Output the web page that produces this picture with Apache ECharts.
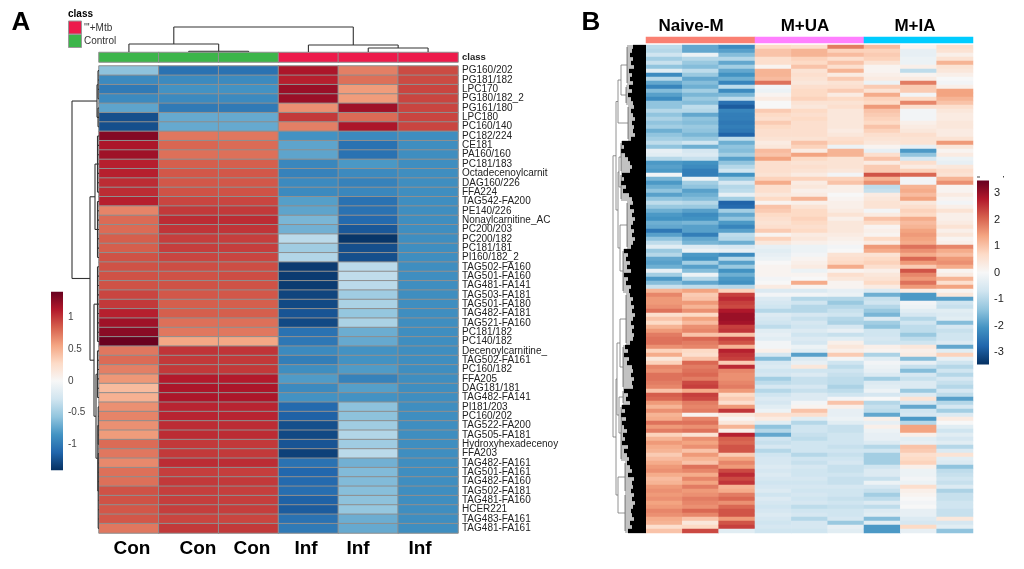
<!DOCTYPE html>
<html>
<head>
<meta charset="utf-8">
<title>Lipid heatmaps</title>
<style>
  html, body { margin: 0; padding: 0; background: #fff; }
  #myChart { width: 1024px; height: 569px; }
</style>
<script src="https://cdn.jsdelivr.net/npm/echarts@6/dist/echarts.min.js"></script>
</head>
<body>
<div id="myChart"></div>
<script>
// panel A
var lipidNames = ['PG160/202','PG181/182','LPC170','PG180/182_2','PG161/180','LPC180','PC160/140','PC182/224','CE181','PA160/160',
  'PC181/183','Octadecenoylcarnit','DAG160/226','FFA224','TAG542-FA200','PE140/226','Nonaylcarnitine_AC','PC200/203','PC200/182','PC181/181',
  'PI160/182_2','TAG502-FA160','TAG501-FA160','TAG481-FA141','TAG503-FA181','TAG501-FA180','TAG482-FA181','TAG521-FA160','PC181/182','PC140/182',
  'Decenoylcarnitine_','TAG502-FA161','PC160/182','FFA205','DAG181/181','TAG482-FA141','PI181/203','PC160/202','TAG522-FA200','TAG505-FA181',
  'Hydroxyhexadecenoy','FFA203','TAG482-FA161','TAG501-FA161','TAG482-FA160','TAG502-FA181','TAG481-FA160','HCER221','TAG483-FA161','TAG481-FA161'];
var sampleClass = [1, 1, 1, 0, 0, 0];
var classColors = ['#ED1A4B', '#3CB54A'];
var classNames = ["'''+Mtb", 'Control'];

var con1 = [-.58,-.9,-1.0,-.9,-.75,-1.25,-1.25,1.3,1.15,1.2,1.1,1.1,1.05,1.05,1.1,.7,.8,.8,.85,.85,.9,.9,.9,.9,.95,1.0,1.1,1.2,1.28,1.4,
  .75,.8,.72,.62,.45,.5,.65,.7,.65,.6,.8,.75,.68,.78,.78,.9,.9,.88,.88,.75];
var con2 = [-1.05,-.9,-.85,-.9,-1.0,-.72,-.72,.75,.82,.78,.85,.88,.88,.9,.95,1.0,1.05,1.02,.98,.98,.95,.92,.9,.9,.88,.85,.85,.78,.75,.55,
  1.02,1.0,1.0,1.12,1.15,1.15,1.08,1.08,1.05,1.05,1.0,1.0,1.05,.98,1.0,.98,.98,.98,.95,1.0];
var con3 = [-1.05,-.9,-.85,-.9,-1.0,-.72,-.72,.75,.8,.78,.85,.88,.88,.9,.95,1.0,1.05,1.02,.98,.98,.95,.92,.92,.9,.88,.85,.85,.78,.75,.55,
  1.02,1.0,1.0,1.12,1.15,1.15,1.08,1.08,1.05,1.05,1.0,1.0,1.05,.98,1.0,.98,.98,.98,.95,1.0];
var inf1 = [1.15,1.1,1.22,1.22,.65,1.0,.72,-.85,-.75,-.75,-.92,-.95,-.9,-.9,-.78,-.75,-.65,-.68,-.38,-.5,-.42,-1.35,-1.35,-1.35,-1.3,-1.28,-1.22,-1.28,-1.05,-1.02,
  -.9,-.98,-.88,-.8,-.9,-.85,-1.1,-1.15,-1.25,-1.28,-1.22,-1.32,-1.05,-1.12,-1.1,-1.08,-1.15,-1.18,-1.05,-1.0];
var inf2 = [.72,.78,.6,.6,1.2,.8,1.15,-.9,-1.05,-1.05,-.82,-.9,-.95,-.92,-1.05,-1.05,-1.1,-1.2,-1.38,-1.25,-1.25,-.38,-.36,-.38,-.5,-.45,-.55,-.45,-.7,-.72,
  -.85,-.85,-.8,-.95,-.78,-.85,-.58,-.58,-.5,-.42,-.5,-.38,-.68,-.62,-.62,-.6,-.58,-.55,-.7,-.72];
var inf3 = [.93,.93,.95,.95,.95,.95,.95,-.88,-.88,-.88,-.88,-.88,-.88,-.88,-.88,-.88,-.88,-.88,-.88,-.88,-.88,-.88,-.88,-.88,-.88,-.88,-.88,-.88,-.88,-.88,
  -.88,-.88,-.88,-.88,-.88,-.88,-.88,-.88,-.88,-.88,-.88,-.88,-.88,-.88,-.88,-.88,-.88,-.88,-.88,-.88];
var columnsA = [con1, con2, con3, inf1, inf2, inf3];

// dendrograms: [height, child, child], [height, n] is a block of n leaves
var treeTopA = [25, [8, [0, 1], [0.8, [0, 1], [0, 1]]], [7, [0, 1], [4, [0, 1], [0, 1]]]];
var treeLeftA = [27,
  [2, [1, 4], [1, 3]],
  [9,
    [4, [1.5, 7], [1.5, 7]],
    [5, [1.5, 9], [3, [1.5, 6], [1.2, [0.8, 5], [0.8, 9]]]]
  ]
];

// panel B
var groupNames = ['Naive-M', 'M+UA', 'M+IA'];
var groupColors = ['#FA8072', '#FF80FF', '#00CCFF'];

var naive1 = [-.9,-1.0,-.7,-1.2,-.8,-1.4,-.4,-2.2,-1.0,-1.8,-2.3,-1.5,-1.9,-2.2,-1.4,-1.4,-1.0,-1.4,-1.1,-1.4,-1.2,-1.7,-1.4,-1.2,-.9,-1.4,-.3,-.4,-1.0,-2.0,-1.9,
  -2.0,-.1,-1.6,-2.0,-1.7,-1.4,-1.9,-1.4,-.9,-1.3,-1.7,-2.0,-2.1,-1.7,-1.8,-2.5,-1.9,-1.4,-.9,-.4,-1.3,-1.0,-1.8,-1.9,-1.7,-.3,-1.2,-2.0,-1.5,-.8,1.2,
  1.7,1.5,1.5,1.6,1.9,.6,1.0,.7,1.2,1.5,1.8,1.9,1.9,1.6,.8,1.3,.4,.8,1.7,1.6,1.9,1.9,1.8,1.7,1.0,2.1,2.0,1.5,1.2,1.6,
  1.2,1.3,1.9,1.5,1.8,.8,1.2,1.5,1.3,1.2,.9,1.1,1.3,1.5,1.6,1.3,1.1,1.2,1.5,1.6,1.5,1.6,1.4,1.5,1.7,1.6,1.3,1.2,.6,1.0];
var naive2 = [-1.8,-1.8,-.2,-1.0,-1.3,-1.5,-.9,-1.3,-1.8,-1.5,-1.7,-1.2,-1.6,-1.3,-1.5,-.9,-1.0,-1.8,-1.4,-1.5,-1.3,-1.4,-1.6,-1.3,-.7,-1.7,-.6,-.5,-.8,-2.1,-2.2,
  -2.4,-2.4,-.2,-1.2,-1.4,-1.9,-1.7,-1.5,-1.0,-1.3,-1.9,-2.2,-2.1,-1.6,-1.9,-1.9,-2.4,-1.8,-1.6,-.5,-.2,-2,-2.1,-1.2,-1.9,-1.5,-.2,-1,-1.8,-.9,1.4,
  .9,1.0,1.5,1.2,1.6,.7,1.4,1.1,1.6,1.7,1.0,2.0,1.8,1.7,.7,.6,1.0,2.0,1.8,1.9,2.0,1.8,2.3,2.4,1.3,2.4,2.3,1.8,1.7,1.8,
  .1,1.7,1.9,1.6,1.9,.5,1.6,1.4,1.6,1.0,1.5,1.2,1.0,1.9,1.7,1.3,1.7,1.4,1.8,1.5,1.6,1.8,1.7,1.6,2.0,1.7,1.0,.4,.7,2.3];
var naive3 = [-2.2,-1.9,-1.5,-1.0,-1.8,-1.2,-1.8,-2.1,-1.7,-2.3,-.9,-2.2,-1.6,-.9,-2.6,-2.9,-2.3,-2.4,-2.4,-2.5,-2.4,-2.5,-2.8,-.9,-1.7,-1.4,-1.5,-1.2,-1.9,-1.4,-1.0,
  -.7,-2.1,-1.3,-.6,-1,-.9,-.3,-1.2,-2.8,-2.7,-1.2,-1.8,-1.4,-2,-2.3,-1.9,-.9,-1.0,-1.7,-.6,-.3,-2.2,-1.0,-1.9,-1.3,-2.1,-1.7,-2.0,-2.1,-1.0,.8,
  2.4,2.6,2.4,2.3,2.8,3.0,3.0,2.9,2.4,2.5,1.0,2.4,2.2,1.2,2.7,2.5,2.4,.9,2.6,1.7,1.6,1.6,1.7,1.8,1.5,.7,.9,.6,1.5,2.5,
  .4,.1,.4,1.2,.2,2.7,2.1,2.0,2.2,2.2,.9,1.4,1.7,1.5,2.3,2.6,2.3,2.5,1.2,1.3,1.8,2.0,1.6,2.0,2.2,2.2,1.5,2.2,2.4,-.4];
var ua1 = [.7,1.0,1.0,.6,.6,.1,1.2,1.2,1.1,1.9,-.1,-.2,.1,.3,.0,.0,.9,.7,.6,.9,.7,.6,.6,.5,.3,.4,1.1,1.0,1.4,.6,.6,
  .6,.5,.8,1.3,.6,.6,.4,.7,.1,1.0,.9,.7,.6,.5,.6,.9,.1,.8,.4,-.3,-.4,-.3,-.2,.0,.1,.1,.1,-.1,.0,.3,-.5,
  -.1,-.5,-.6,-.7,-1.0,-.5,-.6,-.7,-.9,-.4,-.3,-.4,-.1,-.1,.2,-.6,-1.5,-.6,-.5,-.7,-.6,-1.2,-.9,-.6,-1.0,-.7,-.5,-.6,-.4,-.2,
  .6,.3,-.4,-1.4,-1.0,-1.8,-.7,-.8,-.6,-1.0,-.7,-.6,-.6,-.5,-.6,-.5,-.6,-.7,-.6,-.5,-.7,-.5,-.6,-.7,-.6,-.5,-.6,-.7,-.6,-.7];
var ua2 = [.6,1.2,1.2,.8,.7,1.0,.5,.6,.5,.4,.6,.7,.7,.8,.5,.4,.7,.6,.7,.6,.6,.6,.6,.5,1.0,.8,.3,1.4,.7,.5,.6,
  .5,.3,.8,.3,.4,.2,.3,1.2,.2,.5,.7,.7,.8,.7,.6,.7,.3,.4,.2,-.2,-.2,-.1,.1,.2,.3,-.2,.1,.0,1.3,.1,-.5,
  -.1,-1.0,-.7,-1.0,-1.0,-.6,-.8,-.6,-.7,-.5,-.7,-.5,-.6,-.2,-.4,-1.9,-.5,-.3,.4,-.7,-.5,-.8,-.8,-.6,-.8,-.5,-.5,-.1,.1,1.0,
  .6,-.4,-1.0,-.7,-.7,-.8,-.9,-.7,-.7,-.7,-1.0,-.7,-.8,-.6,-.7,-.7,-.6,-.7,-.6,-.7,-.6,-.7,-.6,-.9,-.7,-.6,-1.0,-.6,-.6,-.7];
var ua3 = [1.8,.8,1.1,.6,1.0,.6,1.2,.3,.9,.5,.6,.9,.3,.7,.5,.6,.4,.4,.4,.4,.4,.3,.4,.6,.7,-.2,1.2,1.2,.5,.5,.5,
  .4,-.1,.8,1.0,.2,.2,.0,.1,.2,.2,.3,.5,.2,.4,.4,.4,.3,.2,.1,-.1,.0,.5,.6,.7,1.3,.1,.6,.4,.1,.1,-.3,
  -.2,-1.0,-1.3,-1.0,-.8,-.7,-1.0,-1.1,-.6,-.3,-.8,-.4,.2,.4,.2,.9,-.1,-.7,-.9,-.7,-.8,-.9,-.9,-1.1,-.9,-.7,-.1,1.0,.2,-.3,
  -.3,-.2,-.4,-.8,-.8,-.7,-.7,-.7,-.8,-.7,-.8,-.7,-.6,-.8,-.8,-.7,-.8,-.8,-.6,-.7,-.7,-.8,-.7,-.8,-.7,-.7,-.6,-1.3,-.3,-.4];
var ia1 = [1.1,.8,.9,.8,.5,.1,.1,.2,.3,-.2,.9,.5,1.3,.8,.7,1.5,1.0,.9,.8,.7,1.0,.8,.6,.5,.4,.1,-.3,.6,1.0,.3,.9,
  .9,2.2,1.2,1.6,-.9,-.8,.3,.4,.5,.5,-.1,.3,1.0,.7,.1,.2,.1,.7,.3,1.5,1.3,.5,.7,.8,.6,.2,.4,.5,.7,.3,-.5,
  -1.7,-.8,-.7,-1.0,-1.3,-1.6,-.5,-1.2,-1.4,-.7,-.7,-.6,-.7,.2,.1,-1.1,-.4,-.1,-.2,-.3,-.5,-1.2,-.5,-.4,-.2,-.6,.0,-1.0,-.8,-.9,
  -1.8,.2,-.3,.2,-.2,-.3,-.3,-.5,-1.0,-.7,-1.2,-1.2,-1.2,-.7,-.5,-.5,-.8,-.2,-.6,-.8,-1.2,-.9,-.5,-.9,-.5,-.4,-1.5,-.4,-2.0,-2.0];
var ia2 = [.1,-.3,-.3,-.2,-.2,.2,-.9,.1,.3,1.8,.9,.9,-.1,.7,1.7,.6,-.1,-.1,-.1,.2,.3,.4,.6,.5,.5,-.3,-2.0,-1.4,-.6,.6,.3,
  .8,2.0,-.1,-.1,1.2,1.3,1.1,1.4,.4,.6,.8,.7,1.3,1.1,1.2,1.4,1.5,1.4,1.3,1.9,1.6,1.3,2.0,1.5,.9,2.2,1.7,1.5,1.9,1.5,.3,
  -2.0,-2.0,-.1,-.2,-.4,-.6,-1.0,-.7,-.9,-.9,-1.3,-.9,-.7,.4,.2,.3,-1.5,-.3,-.8,-1.5,-.6,-.8,-.5,-.5,-1.3,-.5,.5,-.6,-1.8,-.7,
  -.6,-2.0,-1.0,1.4,1.4,.2,-.4,-.3,1.0,.9,.6,.7,.8,.2,-.2,-.2,-.1,-.2,.6,.2,.1,.0,-.1,.0,-.3,-.3,-.5,-.6,.7,-.3];
var ia3 = [.6,.5,.2,.5,1.2,.5,.4,.2,.0,-.1,.2,1.4,1.4,1.2,1.0,.6,.4,.3,.3,.4,.4,.3,.3,.5,1.5,.4,.1,.3,-.2,-.3,.4,
  .6,.5,1.2,1.6,.1,.1,.3,.1,-.1,.2,.5,.2,.2,.3,.5,.2,.4,.1,.2,1.7,1.3,1.1,1.5,1.6,1.3,.1,.3,1.2,.6,1.4,.1,
  .4,-1.9,-.7,-.8,-.4,-.5,-.4,-1.5,-.6,-.8,-.7,-.7,-.5,-1.8,-.4,.8,-.3,-.7,-1.0,-.7,-1.0,-.6,-.8,-1.0,-.6,-.9,-1.9,-1.0,-.6,-1.2,
  -.5,.3,.0,-.4,-.7,-.4,-.6,-.4,-1.0,-.5,.5,-.4,-.5,-1.4,-.9,-.8,-.7,-.8,-.5,-1.1,-.8,-.8,-.7,-.7,-.8,-.8,.4,-.6,-.4,-1.4];
var columnsB = [naive1, naive2, naive3, ua1, ua2, ua3, ia1, ia2, ia3];

var leafDepthB = [13,14,16,13,15,12,17,14,16,13, 17,14,18,15,13, 12,15,13,11,14,12,13,11,15,
  24,22,25,21,18,16,14,16, 24,22,25,20,23,17,14, 13,16,12,14,11,13,15,12,14,11,13,15, 22,18,20,16,19,15,22,18,20,15,17,
  16,13,15,12,14,11,13,15,12,14,12,13,16, 21,18,22,17,19,14,13,15,12,14,13, 22,18,20,16,
  24,21,25,20,24,22,19,23,21,24,18,22,19,17, 19,16,14,18,12,14,13,15,12,14,11,13,15,14,12,16,14,18];
var treeLeftB = [33,
  [30,
    [28, [25, [19, 10], [20, 5]], [18, 9]],
    [28, [27, [25, 8], [25, 7]], [26, [19, 12], [23, 11]]]
  ],
  [30,
    [29, [26, [20, 13], [23, 11]], [27, [23, 4], [25, 14]]],
    [28, [21, 8], [21, 10]]
  ]
];

var rdBu = ['#053061','#2166ac','#4393c3','#92c5de','#d1e5f0','#f7f7f7','#fddbc7','#f4a582','#d6604d','#b2182b','#67001f'];
var rangeA = 1.41, rangeB = 3.47;
var fontName = 'Liberation Sans';

function heatData(columns) {
    var out = [];
    for (var c = 0; c < columns.length; c++) {
        for (var r = 0; r < columns[c].length; r++) {
            out.push([c, r, columns[c][r]]);
        }
    }
    return out;
}

// walks a tree, returns segments [h1, pos1, h2, pos2, kind]
function layoutTree(node, state, depths) {
    var h = node[0];
    if (node.length === 2) {
        var first = state.cursor + 0.5;
        for (var i = 0; i < node[1]; i++) {
            var p = state.cursor + 0.5;
            if (depths) {
                var d = depths[state.cursor];
                state.segs.push([0, p, d, p, 1]);
                // two fine branches per row, the picture has about two leaves per band
                state.segs.push([d, p - 0.25, h, p - 0.25, 2]);
                state.segs.push([d, p + 0.25, h, p + 0.25, 2]);
            } else if (h > 0) {
                state.segs.push([0, p, h, p, 0]);
            }
            state.cursor++;
        }
        var last = state.cursor - 0.5;
        if (h > 0 && node[1] > 1) {
            state.segs.push([h, first, h, last, depths ? 2 : 0]);
        }
        return { h: h, p: (first + last) / 2 };
    }
    var a = layoutTree(node[1], state, depths);
    var b = layoutTree(node[2], state, depths);
    state.segs.push([a.h, a.p, h, a.p, 0]);
    state.segs.push([b.h, b.p, h, b.p, 0]);
    state.segs.push([h, a.p, h, b.p, 0]);
    return { h: h, p: (a.p + b.p) / 2 };
}

function treeSegments(tree, depths) {
    var state = { cursor: 0, segs: [] };
    layoutTree(tree, state, depths);
    return state.segs;
}

function dendroSeries(idx, segs, horizontal, thin, color) {
    return {
        type: 'custom',
        xAxisIndex: idx,
        yAxisIndex: idx,
        silent: true,
        clip: false,
        data: segs,
        encode: { x: horizontal ? [1, 3] : [0, 2], y: horizontal ? [0, 2] : [1, 3] },
        renderItem: function (params, api) {
            var h1 = api.value(0), p1 = api.value(1), h2 = api.value(2), p2 = api.value(3), kind = api.value(4);
            var s = horizontal ? api.coord([p1, h1]) : api.coord([h1, p1]);
            var e = horizontal ? api.coord([p2, h2]) : api.coord([h2, p2]);
            var style = { stroke: color, lineWidth: thin };
            if (kind === 1) { style = { stroke: '#000', lineWidth: 4.3 }; }
            if (kind === 2) { style = { stroke: '#333', lineWidth: 0.6 }; }
            return { type: 'line', shape: { x1: s[0], y1: s[1], x2: e[0], y2: e[1] }, style: style };
        }
    };
}

function colorBarSeries(idx, range) {
    var stops = [];
    for (var i = 0; i < rdBu.length; i++) {
        stops.push({ offset: 1 - i / (rdBu.length - 1), color: rdBu[i] });
    }
    return {
        type: 'custom',
        xAxisIndex: idx,
        yAxisIndex: idx,
        silent: true,
        data: [[0, range, 1, -range]],
        encode: { x: [0, 2], y: [1, 3] },
        renderItem: function (params, api) {
            var s = api.coord([api.value(0), api.value(1)]);
            var e = api.coord([api.value(2), api.value(3)]);
            return {
                type: 'rect',
                shape: { x: s[0], y: s[1], width: e[0] - s[0], height: e[1] - s[1] },
                style: { fill: new echarts.graphic.LinearGradient(0, 0, 0, 1, stops) }
            };
        }
    };
}

function indexList(n) {
    var out = [];
    for (var i = 0; i < n; i++) { out.push(String(i)); }
    return out;
}

function hiddenCategory(n, inverse) {
    return { type: 'category', data: indexList(n), show: false, inverse: !!inverse };
}

function hiddenValue(min, max, inverse) {
    return { type: 'value', min: min, max: max, show: false, inverse: !!inverse };
}

function colorBarAxis(limit, step, range, fontSize, color) {
    return {
        type: 'value', position: 'right', min: -limit, max: limit, interval: step,
        splitLine: { show: false }, axisLine: { show: false }, axisTick: { show: false },
        axisLabel: {
            fontFamily: fontName, fontSize: fontSize, color: color, margin: 5,
            formatter: function (v) { return Math.abs(v) > range ? '' : String(v); }
        }
    };
}

function label(text, x, y, size, bold, align) {
    return {
        type: 'text', x: x, y: y,
        style: {
            text: text, fontFamily: fontName, fontSize: size, fontWeight: bold ? 'bold' : 'normal',
            fill: bold ? '#000' : '#333', textAlign: align || 'center', textVerticalAlign: 'middle'
        }
    };
}

function legendBox(y, color) {
    return { type: 'rect', shape: { x: 68.5, y: y, width: 13, height: 13 }, style: { fill: color, stroke: '#999', lineWidth: 1 } };
}

function classBarData() {
    var out = [];
    for (var i = 0; i < sampleClass.length; i++) {
        out.push({ value: [i, 0, sampleClass[i]], itemStyle: { color: classColors[sampleClass[i]] } });
    }
    return out;
}

function groupBarData() {
    var out = [];
    for (var i = 0; i < groupColors.length; i++) {
        out.push({ value: [i, 0, i], itemStyle: { color: groupColors[i] } });
    }
    return out;
}

function withGridIndex(axes) {
    for (var i = 0; i < axes.length; i++) { axes[i].gridIndex = i; }
    return axes;
}

var nA = lipidNames.length, nB = naive1.length;

var option = {
    animation: false,
    backgroundColor: '#fff',
    textStyle: { fontFamily: fontName },
    grid: [
        { left: 99, top: 66, width: 359, height: 467 },   // A heat
        { left: 99, top: 52.5, width: 359, height: 9.5 }, // A class bar
        { left: 99, top: 27, width: 359, height: 25 },    // A top tree
        { left: 70, top: 66, width: 29, height: 467 },    // A left tree
        { left: 51, top: 286, width: 12, height: 190 },   // A colour bar
        { left: 646, top: 45, width: 327, height: 488 },  // B heat
        { left: 646, top: 37, width: 327, height: 6 },    // B group bar
        { left: 610, top: 45, width: 36, height: 488 },   // B tree
        { left: 977, top: 166.5, width: 12, height: 212 } // B colour bar
    ],
    xAxis: withGridIndex([
        hiddenCategory(6),
        hiddenCategory(6),
        hiddenValue(0, 6),
        hiddenValue(0, 29, true),
        hiddenValue(0, 1),
        hiddenCategory(9),
        hiddenCategory(3),
        hiddenValue(0, 36, true),
        hiddenValue(0, 1)
    ]),
    yAxis: withGridIndex([
        {
            type: 'category', data: lipidNames, inverse: true, position: 'right',
            axisLine: { show: false }, axisTick: { show: false },
            axisLabel: { interval: 0, fontFamily: fontName, fontSize: 10, color: '#222', margin: 4 }
        },
        {
            type: 'category', data: ['class'], position: 'right',
            axisLine: { show: false }, axisTick: { show: false },
            axisLabel: { fontFamily: fontName, fontSize: 9.5, fontWeight: 'bold', color: '#222', margin: 4 }
        },
        hiddenValue(0, 25),
        hiddenValue(0, nA, true),
        colorBarAxis(1.5, 0.5, rangeA, 10, '#444'),
        hiddenCategory(nB, true),
        hiddenCategory(1),
        hiddenValue(0, nB, true),
        colorBarAxis(4, 1, rangeB, 11, '#222')
    ]),
    visualMap: [
        { show: false, seriesIndex: 0, dimension: 2, min: -rangeA, max: rangeA, inRange: { color: rdBu } },
        { show: false, seriesIndex: 5, dimension: 2, min: -rangeB, max: rangeB, inRange: { color: rdBu } }
    ],
    series: [
        {
            type: 'heatmap', xAxisIndex: 0, yAxisIndex: 0, data: heatData(columnsA), silent: true, progressive: 0,
            itemStyle: { borderColor: '#8f8f8f', borderWidth: 1 }
        },
        {
            type: 'heatmap', xAxisIndex: 1, yAxisIndex: 1, data: classBarData(), silent: true,
            itemStyle: { borderColor: '#8f8f8f', borderWidth: 1 }
        },
        dendroSeries(2, treeSegments(treeTopA), true, 1.1, '#333'),
        dendroSeries(3, treeSegments(treeLeftA), false, 1.1, '#333'),
        colorBarSeries(4, rangeA),
        { type: 'heatmap', xAxisIndex: 5, yAxisIndex: 5, data: heatData(columnsB), silent: true, progressive: 0 },
        { type: 'heatmap', xAxisIndex: 6, yAxisIndex: 6, data: groupBarData(), silent: true },
        dendroSeries(7, treeSegments(treeLeftB, leafDepthB), false, 0.8, '#777'),
        colorBarSeries(8, rangeB)
    ],
    graphic: [
        label('A', 21, 23, 26, true),
        label('B', 591, 23, 26, true),
        label('class', 68, 14.5, 10, true, 'left'),
        legendBox(21, classColors[0]),
        legendBox(34.5, classColors[1]),
        label(classNames[0], 84, 28, 10, false, 'left'),
        label(classNames[1], 84, 41, 10, false, 'left'),
        label('Con', 132, 549, 19, true),
        label('Con', 198, 549, 19, true),
        label('Con', 252, 549, 19, true),
        label('Inf', 306, 549, 19, true),
        label('Inf', 358, 549, 19, true),
        label('Inf', 420, 549, 19, true),
        label(groupNames[0], 691, 26, 17, true),
        label(groupNames[1], 805, 26, 17, true),
        label(groupNames[2], 915, 26, 17, true),
        // the two stray specks above the colour bar in B
        { type: 'rect', shape: { x: 977, y: 176.5, width: 3, height: 1 }, style: { fill: '#444' } },
        { type: 'rect', shape: { x: 1003, y: 176, width: 1, height: 1.5 }, style: { fill: '#444' } }
    ]
};

var myChart = echarts.init(document.getElementById('myChart'), null, { renderer: 'canvas' });
myChart.setOption(option);
</script>
</body>
</html>
